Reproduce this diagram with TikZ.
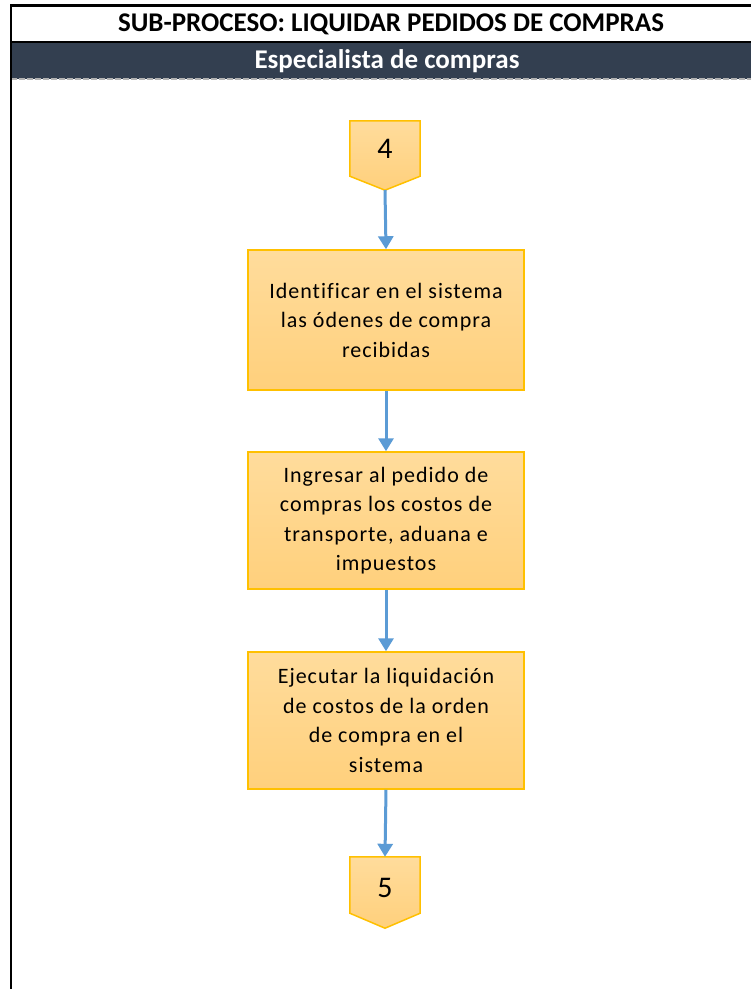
\documentclass[tikz,border=0pt]{standalone}
\usepackage{fontspec}
\setmainfont{Carlito}
\usetikzlibrary{arrows.meta}
\definecolor{bandblue}{HTML}{333F50}
\definecolor{boxedge}{HTML}{FFC000}
\definecolor{boxtop}{HTML}{FFDC9C}
\definecolor{boxbottom}{HTML}{FFD07C}
\definecolor{flowblue}{HTML}{5B9BD5}
\tikzset{
  stepbox/.style={rectangle, draw=boxedge, line width=1.5pt, top color=boxtop, bottom color=boxbottom,
    minimum width=276pt, minimum height=137pt, align=center, inner sep=0pt,
    font=\fontsize{22}{29.5}\selectfont\addfontfeature{LetterSpace=4.5,Ligatures=NoCommon}},
  pageref/.style={rectangle, minimum width=70pt, minimum height=69pt, inner sep=0pt},
  refshape/.style={draw=boxedge, line width=1.5pt, top color=boxtop, bottom color=boxbottom},
  flow/.style={draw=flowblue, line width=3pt, -{Triangle[width=15pt,length=13pt]}},
  headtext/.style={font=\fontsize{27}{30}\selectfont\bfseries, inner sep=0pt},
}
\begin{document}
\begin{tikzpicture}[x=1pt,y=-1pt]
\useasboundingbox (0,0) rectangle (751,989);
\fill[white] (0,0) rectangle (751,989);

% header: title row and lane band
\fill[bandblue] (11,42) rectangle (751,79);
\draw[line width=3pt] (11,5.5) -- (751,5.5);
\draw[line width=2.5pt] (11,42) -- (751,42);
\draw[gray!60, line width=1.5pt, dash pattern=on 6pt off 2pt] (11,79) -- (751,79);
\draw[line width=2.5pt] (11,4) -- (11,989);
\node[headtext] (title) at (391,24) {SUB-PROCESO: LIQUIDAR PEDIDOS DE COMPRAS};
\node[headtext, text=white] (lane) at (387,61) {Especialista de compras};

% flow
\node[pageref] (c4) at (385,155.5) {};
\path[refshape] (c4.north west) -- (c4.north east) -- ([yshift=14pt]c4.south east) -- (c4.south) -- ([yshift=14pt]c4.south west) -- cycle;
\node[font=\fontsize{30}{34}\selectfont] (n4) at (385,149) {4};

\node[stepbox, minimum height=140pt] (b1) at (386,320) {Identificar en el sistema\\las ódenes de compra\\recibidas};
\node[stepbox] (b2) at (386,520.5) {Ingresar al pedido de\\compras los costos de\\transporte, aduana e\\impuestos};
\node[stepbox] (b3) at (386,720.5) {Ejecutar la liquidación\\de costos de la orden\\de compra en el\\sistema};

\node[pageref, minimum height=71pt] (c5) at (385,892.5) {};
\path[refshape] (c5.north west) -- (c5.north east) -- ([yshift=15pt]c5.south east) -- (c5.south) -- ([yshift=15pt]c5.south west) -- cycle;
\node[font=\fontsize{30}{34}\selectfont] (n5) at (385,888) {5};

\draw[flow] (c4.south) -- (b1.north);
\draw[flow] (b1.south) -- (b2.north);
\draw[flow] (b2.south) -- (b3.north);
\draw[flow] (b3.south) -- (c5.north);
\end{tikzpicture}
\end{document}
